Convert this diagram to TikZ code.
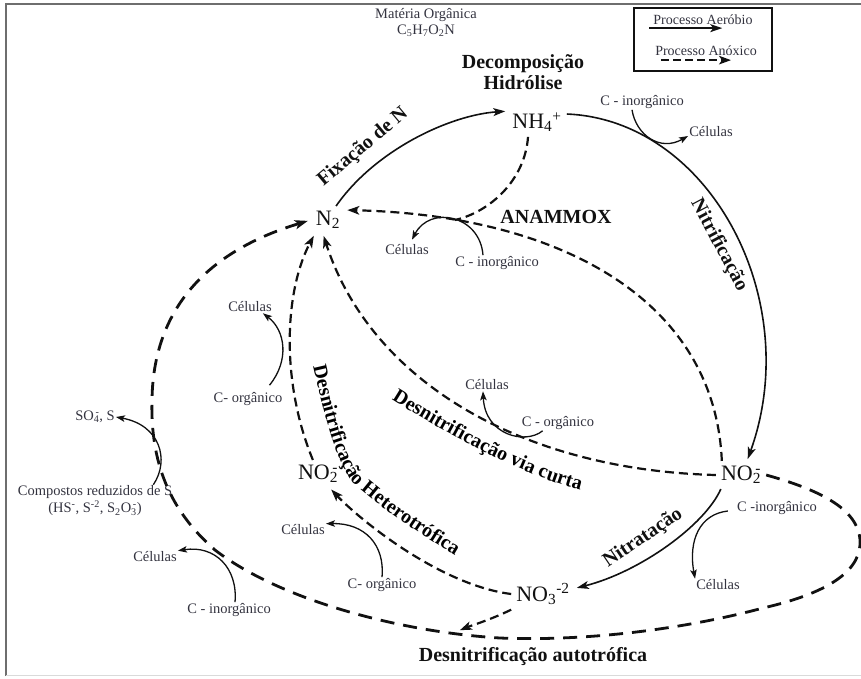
\documentclass[tikz,border=0pt]{standalone}
\usepackage{fontspec}
\setmainfont{Liberation Serif}
\usetikzlibrary{arrows.meta,decorations.text}
\definecolor{cyclenote}{HTML}{33333F}
\definecolor{cycleline}{HTML}{111111}
\definecolor{cycleframe}{HTML}{6E6E6E}
\definecolor{cyclerule}{HTML}{DADADA}
\newcommand{\subsup}[2]{\textsubscript{#1}\llap{\textsuperscript{#2}}}
\tikzset{
  cycle ion/.style={inner sep=5pt, text=cycleline, font=\fontsize{22}{24}\selectfont},
  cycle note/.style={
    inner sep=1pt, text=cyclenote,
    font=\fontsize{14.5}{17}\selectfont, align=center
  },
  cycle process/.style={
    inner sep=1pt, text=cycleline,
    font=\fontsize{20}{21}\selectfont\bfseries, align=center
  },
  cycle aerobic/.style={
    draw=cycleline, line width=1.6pt,
    -{Stealth[length=12pt,width=8pt,inset=3pt]}, shorten >=2pt
  },
  cycle anoxic/.style={draw=cycleline, line width=2.2pt, dash pattern=on 9pt off 5pt},
  cycle anoxic arrow/.style={
    cycle anoxic,
    -{Stealth[length=12pt,width=8.5pt,inset=3pt]}, shorten >=2pt
  },
  cycle autotrophic/.style={
    draw=cycleline, line width=2.8pt, dash pattern=on 14pt off 9pt,
    -{Stealth[length=13pt,width=9pt,inset=3pt]}, shorten >=3pt
  },
  cycle side/.style={
    draw=cycleline, line width=1.3pt,
    -{Stealth[length=9pt,width=6.5pt,inset=2pt]}
  },
  cycle curved label/.style={
    decorate,
    decoration={text along path, text align=center,
      text={|\fontsize{20}{21}\selectfont\bfseries|#1}}
  }
}

\begin{document}
\begin{tikzpicture}[x=1pt,y=-1pt]
  \useasboundingbox (0,0) rectangle (861,679);
  \draw[cycleframe, line width=1.6pt] (6,676) -- (6,4) -- (861,4);
  \draw[cyclerule, line width=1.2pt] (6,675.5) -- (861,675.5);

  % Legend
  \node[draw=cycleline, line width=1.2pt, minimum width=138pt, minimum height=63pt, inner sep=0pt] (legend) at (703,39.5) {};
  \node[cycle note, font=\fontsize{14}{16}\selectfont] (legaer) at (703,20) {Processo Aeróbio};
  \node[cycle note, font=\fontsize{14}{16}\selectfont] (legano) at (706,51) {Processo Anóxico};
  \draw[cycle aerobic, shorten >=0pt] ([xshift=-3pt,yshift=-2pt]legaer.south west) -- ++(73,0);
  \draw[cycle anoxic arrow, shorten >=0pt, line width=2.5pt, dash pattern=on 8pt off 4pt] ([xshift=7pt,yshift=-3pt]legano.south west) -- ++(70,0);

  % Organic matter and the nitrogen species
  \node[cycle note] (matter) at (426,15) {Matéria Orgânica};
  \node[cycle note] (formula) at (426,31) {C\textsubscript{5}H\textsubscript{7}O\textsubscript{2}N};
  \node[cycle process] (decomp) at (523,72) {Decomposição\\Hidrólise};

  \node[cycle ion] (ammonium) at (537,122) {NH\textsubscript{4}\textsuperscript{+}};
  \node[cycle ion] (dinitrogen) at (328,220) {N\textsubscript{2}};
  \node[cycle ion] (nitriteR) at (741,475) {NO\subsup{2}{-}};
  \node[cycle ion] (nitriteL) at (318,474) {NO\subsup{2}{-}};
  \node[cycle ion] (nitrate) at (543,594) {NO\textsubscript{3}\textsuperscript{-2}};

  % Process names
  \node[cycle process, rotate=40] (fixlabel) at (363,147) {Fixação de N};
  \node[cycle process, rotate=-62] (nitriflabel) at (719,245) {Nitrificação};
  \node[cycle process] (anammoxlabel) at (556,217) {ANAMMOX};
  \node[cycle process, rotate=34] (nitratlabel) at (643,538) {Nitratação};
  \node[cycle process] (autolabel) at (533,657) {Desnitrificação autotrófica};
  \path[cycle curved label={Desnitrificação via curta}]
    (392,400) .. controls (440,430) and (520,475) .. (580,490);
  \path[cycle curved label={Desnitrificação Heterotrófica}]
    (313,366) .. controls (322,405) and (335,460) .. (352,482)
    .. controls (372,502) and (420,535) .. (456,556);

  % Carbon sources and biomass
  \node[cycle note] (cinorgtop) at (642,102) {C - inorgânico};
  \node[cycle note] (celltop) at (711,132) {Células};
  \node[cycle note] (cinorganam) at (497,263) {C - inorgânico};
  \node[cycle note] (cellanam) at (407,250) {Células};
  \node[cycle note] (corgshort) at (558,423) {C - orgânico};
  \node[cycle note] (cellshort) at (487,385) {Células};
  \node[cycle note] (corgleft) at (248,399) {C- orgânico};
  \node[cycle note] (cellleft) at (250,307) {Células};
  \node[cycle note] (corghet) at (382,585) {C- orgânico};
  \node[cycle note] (cellhet) at (303,530) {Células};
  \node[cycle note] (cinorgnit) at (777,508) {C -inorgânico};
  \node[cycle note] (cellnit) at (718,585) {Células};
  \node[cycle note] (sulfate) at (95,417) {SO\subsup{4}{-}, S};
  \node[cycle note] (sulfide) at (95,501) {Compostos reduzidos de S\\(HS\textsuperscript{-}, S\textsuperscript{-2}, S\textsubscript{2}O\subsup{3}{-})};
  \node[cycle note] (cinorgsulf) at (229,610) {C - inorgânico};
  \node[cycle note] (cellsulf) at (155,557) {Células};

  % Aerobic steps
  \draw[cycle aerobic] (dinitrogen.60) .. controls (375,150) and (450,115) .. (ammonium.160);
  \draw[cycle aerobic] (ammonium.15) .. controls (710,120) and (805,300) .. ([xshift=6pt]nitriteR.north);
  \draw[cycle aerobic] ([xshift=5pt]nitriteR.south west) .. controls (705,525) and (640,572) .. (nitrate.10);

  % Anoxic steps
  \coordinate (anammoxjoin) at (455,220);
  \coordinate (autojoin) at (458,631);
  \draw[cycle anoxic arrow] ([xshift=6pt]nitriteR.north west) .. controls (715,300) and (560,215) .. (dinitrogen.30);
  \draw[cycle anoxic] ([xshift=-9pt]ammonium.south) .. controls (525,180) and (490,212) .. (anammoxjoin);
  \draw[cycle anoxic arrow] (nitriteR.west) .. controls (520,470) and (370,380) .. ([xshift=-5pt]dinitrogen.south);
  \draw[cycle anoxic arrow] (nitrate.west) .. controls (440,585) and (360,520) .. (nitriteL.-50);
  \draw[cycle anoxic arrow] (nitriteL.110) .. controls (280,380) and (285,290) .. ([xshift=4pt]dinitrogen.south west);
  \draw[cycle anoxic arrow] (nitrate.south west) .. controls (490,620) and (470,626) .. (autojoin);

  % Autotrophic loop through the reduced sulfur compounds
  \draw[cycle autotrophic] (nitriteR.east)
    .. controls (820,490) and (862,510) .. (860,545)
    .. controls (858,575) and (820,595) .. (763,608)
    .. controls (700,625) and (600,642) .. (500,638)
    .. controls (400,632) and (280,600) .. (215,550)
    .. controls (175,515) and (150,470) .. (152,400)
    .. controls (153,320) and (195,255) .. (dinitrogen.west);

  % Side reactions
  \draw[cycle side] ([xshift=-10pt]cinorgtop.south) .. controls (636,135) and (660,152) .. ([yshift=-4pt]celltop.west);
  \draw[cycle side] ([xshift=-14pt]cinorganam.north) .. controls (480,215) and (430,205) .. ([xshift=5pt,yshift=4pt]cellanam.north);
  \draw[cycle side] ([xshift=22pt]corgshort.south west) .. controls (525,445) and (485,435) .. ([xshift=-4pt]cellshort.south);
  \draw[cycle side] ([xshift=-14pt,yshift=6pt]corgleft.north east) .. controls (290,360) and (285,330) .. ([xshift=-10pt]cellleft.south east);
  \draw[cycle side] (corghet.north) .. controls (385,545) and (365,523) .. (cellhet.north east);
  \draw[cycle side] ([xshift=-8pt,yshift=-3pt]cinorgnit.west) .. controls (700,514) and (688,540) .. (cellnit.north west);
  \draw[cycle side] ([xshift=-20pt]sulfide.north east) .. controls (170,460) and (160,425) .. (sulfate.east);
  \draw[cycle side] ([xshift=6pt]cinorgsulf.north) .. controls (238,568) and (215,545) .. (cellsulf.north east);
\end{tikzpicture}
\end{document}
